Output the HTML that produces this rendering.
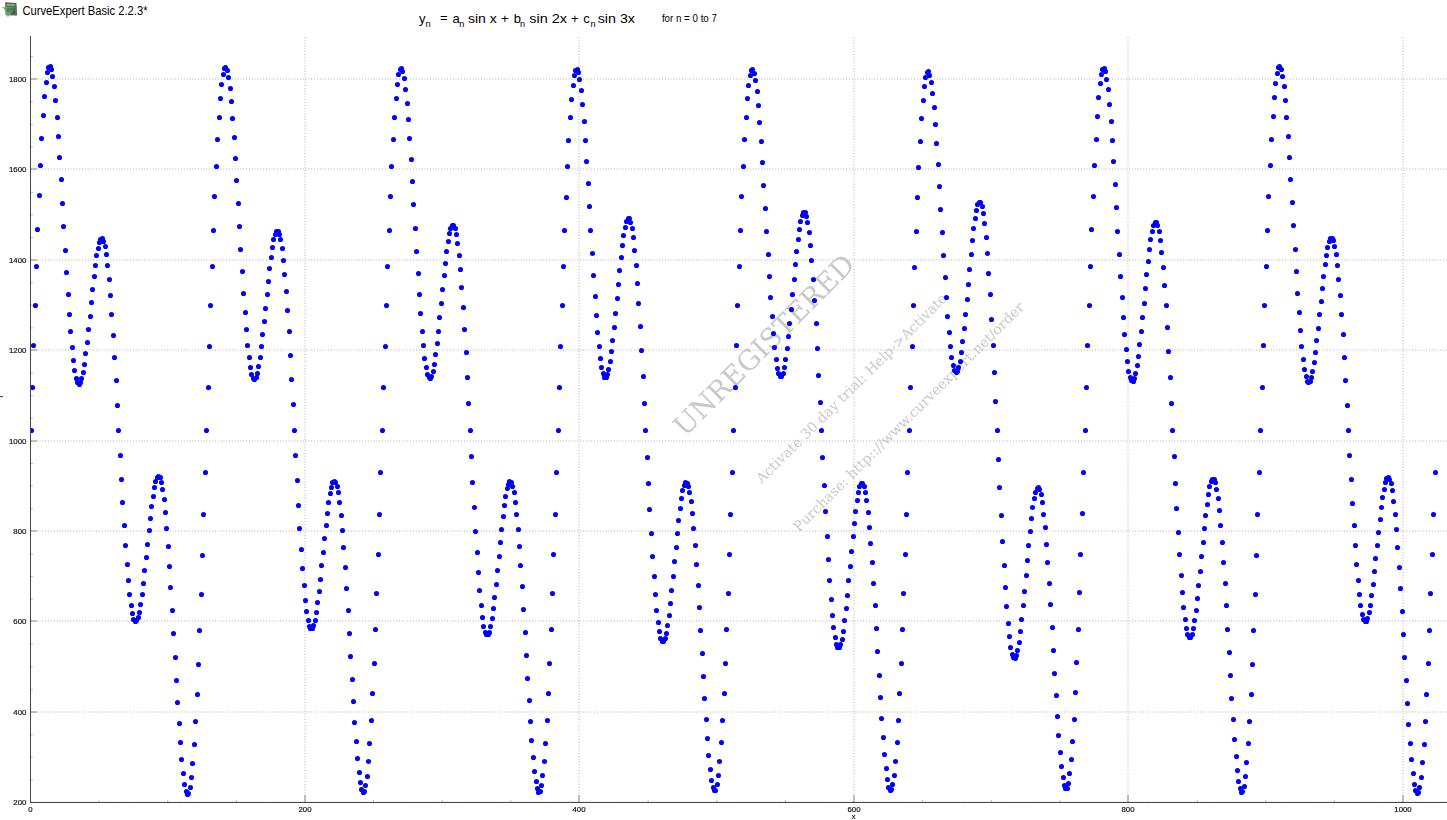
<!DOCTYPE html><html><head><meta charset="utf-8"><title>CurveExpert Basic 2.2.3*</title><style>
html,body{margin:0;padding:0;background:#fff;width:1447px;height:820px;overflow:hidden;position:relative}
svg{position:absolute;left:0;top:0;display:block}
#plot{will-change:transform}
</style></head><body>
<svg id="top" width="1447" height="40" viewBox="0 0 1447 40">
<defs><linearGradient id="ig" x1="1" y1="0" x2="0" y2="1"><stop offset="0" stop-color="#1f6e30"/><stop offset="1" stop-color="#9fdca3"/></linearGradient></defs><g><path d="M5.2,2.2 L16.4,2.9 L17,15.6 L5.6,15.2 Z" fill="#505251"/><path d="M6.3,3.4 L15.4,3.9 L15.9,14.6 L6.6,14.2 Z" fill="none" stroke="#727574" stroke-width="0.7"/><rect x="6.8" y="4.2" width="8" height="2.0" fill="#7ab882"/><rect x="2" y="6.9" width="15" height="0.9" fill="url(#ig)"/><path d="M3.6,7.8 L16.6,7.8 L7.6,17.6 Z" fill="url(#ig)" opacity="0.8"/><path d="M7,10 L10,9.5 L7.4,12 Z" fill="#3b3d3c" opacity="0.6"/></g>
<text x="22.5" y="14.6" font-family="Liberation Sans, sans-serif" font-size="12" fill="#000" textLength="125" lengthAdjust="spacingAndGlyphs">CurveExpert Basic 2.2.3*</text>
<g font-family="Liberation Sans, sans-serif" fill="#000">
<text x="418.90" y="22.70" font-size="13">y</text>
<text x="425.60" y="26.60" font-size="9.2">n</text>
<text x="440.10" y="21.75" font-size="13">=</text>
<text x="452.50" y="22.70" font-size="13">a</text>
<text x="459.20" y="26.60" font-size="9.2">n</text>
<text x="467.90" y="22.70" font-size="13" textLength="28.90" lengthAdjust="spacingAndGlyphs">sin x</text>
<text x="501.00" y="22.70" font-size="13">+</text>
<text x="513.80" y="22.70" font-size="13">b</text>
<text x="519.90" y="26.60" font-size="9.2">n</text>
<text x="529.20" y="22.70" font-size="13" textLength="37.80" lengthAdjust="spacingAndGlyphs">sin 2x</text>
<text x="570.90" y="22.70" font-size="13">+</text>
<text x="583.30" y="22.70" font-size="13">c</text>
<text x="590.40" y="26.60" font-size="9.2">n</text>
<text x="597.70" y="22.70" font-size="13" textLength="37.30" lengthAdjust="spacingAndGlyphs">sin 3x</text>
<text x="661.90" y="21.90" font-size="10.5" textLength="55.00" lengthAdjust="spacingAndGlyphs">for n = 0 to 7</text>
</g></svg>
<svg id="plot" width="1447" height="820" viewBox="0 0 1447 820" style="top:0">
<line x1="305" y1="37" x2="305" y2="802" stroke="#b0b0b0" stroke-dasharray="1 1.83"/>
<line x1="579" y1="37" x2="579" y2="802" stroke="#b0b0b0" stroke-dasharray="1 1.83"/>
<line x1="854" y1="37" x2="854" y2="802" stroke="#b0b0b0" stroke-dasharray="1 1.83"/>
<line x1="1128" y1="37" x2="1128" y2="802" stroke="#b0b0b0" stroke-dasharray="1 1.83"/>
<line x1="1403" y1="37" x2="1403" y2="802" stroke="#b0b0b0" stroke-dasharray="1 1.83"/>
<line x1="31" y1="79" x2="1447" y2="79" stroke="#b0b0b0" stroke-dasharray="1 1.83"/>
<line x1="31" y1="169" x2="1447" y2="169" stroke="#b0b0b0" stroke-dasharray="1 1.83"/>
<line x1="31" y1="260" x2="1447" y2="260" stroke="#b0b0b0" stroke-dasharray="1 1.83"/>
<line x1="31" y1="350" x2="1447" y2="350" stroke="#b0b0b0" stroke-dasharray="1 1.83"/>
<line x1="31" y1="441" x2="1447" y2="441" stroke="#b0b0b0" stroke-dasharray="1 1.83"/>
<line x1="31" y1="531" x2="1447" y2="531" stroke="#b0b0b0" stroke-dasharray="1 1.83"/>
<line x1="31" y1="621" x2="1447" y2="621" stroke="#b0b0b0" stroke-dasharray="1 1.83"/>
<line x1="31" y1="712" x2="1447" y2="712" stroke="#b0b0b0" stroke-dasharray="1 1.83"/>
<line x1="31" y1="802" x2="1447" y2="802" stroke="#b0b0b0" stroke-dasharray="1 1.83"/>
<line x1="305" y1="795" x2="305" y2="802" stroke="#8a8a8a"/>
<line x1="579" y1="795" x2="579" y2="802" stroke="#8a8a8a"/>
<line x1="854" y1="795" x2="854" y2="802" stroke="#8a8a8a"/>
<line x1="1128" y1="795" x2="1128" y2="802" stroke="#8a8a8a"/>
<line x1="1403" y1="795" x2="1403" y2="802" stroke="#8a8a8a"/>
<line x1="30.5" y1="795" x2="30.5" y2="802" stroke="#8a8a8a"/>
<line x1="31" y1="79" x2="37" y2="79" stroke="#8a8a8a"/>
<line x1="31" y1="169" x2="37" y2="169" stroke="#8a8a8a"/>
<line x1="31" y1="260" x2="37" y2="260" stroke="#8a8a8a"/>
<line x1="31" y1="350" x2="37" y2="350" stroke="#8a8a8a"/>
<line x1="31" y1="441" x2="37" y2="441" stroke="#8a8a8a"/>
<line x1="31" y1="531" x2="37" y2="531" stroke="#8a8a8a"/>
<line x1="31" y1="621" x2="37" y2="621" stroke="#8a8a8a"/>
<line x1="31" y1="712" x2="37" y2="712" stroke="#8a8a8a"/>
<line x1="99.12" y1="800" x2="99.12" y2="802" stroke="#b8b8b8"/>
<line x1="167.75" y1="800" x2="167.75" y2="802" stroke="#b8b8b8"/>
<line x1="236.38" y1="800" x2="236.38" y2="802" stroke="#b8b8b8"/>
<line x1="373.62" y1="800" x2="373.62" y2="802" stroke="#b8b8b8"/>
<line x1="442.25" y1="800" x2="442.25" y2="802" stroke="#b8b8b8"/>
<line x1="510.88" y1="800" x2="510.88" y2="802" stroke="#b8b8b8"/>
<line x1="648.12" y1="800" x2="648.12" y2="802" stroke="#b8b8b8"/>
<line x1="716.75" y1="800" x2="716.75" y2="802" stroke="#b8b8b8"/>
<line x1="785.38" y1="800" x2="785.38" y2="802" stroke="#b8b8b8"/>
<line x1="922.62" y1="800" x2="922.62" y2="802" stroke="#b8b8b8"/>
<line x1="991.25" y1="800" x2="991.25" y2="802" stroke="#b8b8b8"/>
<line x1="1059.88" y1="800" x2="1059.88" y2="802" stroke="#b8b8b8"/>
<line x1="1197.12" y1="800" x2="1197.12" y2="802" stroke="#b8b8b8"/>
<line x1="1265.75" y1="800" x2="1265.75" y2="802" stroke="#b8b8b8"/>
<line x1="1334.38" y1="800" x2="1334.38" y2="802" stroke="#b8b8b8"/>
<line x1="31" y1="779.80" x2="33" y2="779.80" stroke="#b8b8b8"/>
<line x1="31" y1="757.21" x2="33" y2="757.21" stroke="#b8b8b8"/>
<line x1="31" y1="734.61" x2="33" y2="734.61" stroke="#b8b8b8"/>
<line x1="31" y1="689.41" x2="33" y2="689.41" stroke="#b8b8b8"/>
<line x1="31" y1="666.82" x2="33" y2="666.82" stroke="#b8b8b8"/>
<line x1="31" y1="644.22" x2="33" y2="644.22" stroke="#b8b8b8"/>
<line x1="31" y1="599.03" x2="33" y2="599.03" stroke="#b8b8b8"/>
<line x1="31" y1="576.43" x2="33" y2="576.43" stroke="#b8b8b8"/>
<line x1="31" y1="553.83" x2="33" y2="553.83" stroke="#b8b8b8"/>
<line x1="31" y1="508.64" x2="33" y2="508.64" stroke="#b8b8b8"/>
<line x1="31" y1="486.04" x2="33" y2="486.04" stroke="#b8b8b8"/>
<line x1="31" y1="463.44" x2="33" y2="463.44" stroke="#b8b8b8"/>
<line x1="31" y1="418.25" x2="33" y2="418.25" stroke="#b8b8b8"/>
<line x1="31" y1="395.65" x2="33" y2="395.65" stroke="#b8b8b8"/>
<line x1="31" y1="373.06" x2="33" y2="373.06" stroke="#b8b8b8"/>
<line x1="31" y1="327.86" x2="33" y2="327.86" stroke="#b8b8b8"/>
<line x1="31" y1="305.27" x2="33" y2="305.27" stroke="#b8b8b8"/>
<line x1="31" y1="282.67" x2="33" y2="282.67" stroke="#b8b8b8"/>
<line x1="31" y1="237.48" x2="33" y2="237.48" stroke="#b8b8b8"/>
<line x1="31" y1="214.88" x2="33" y2="214.88" stroke="#b8b8b8"/>
<line x1="31" y1="192.28" x2="33" y2="192.28" stroke="#b8b8b8"/>
<line x1="31" y1="147.09" x2="33" y2="147.09" stroke="#b8b8b8"/>
<line x1="31" y1="124.49" x2="33" y2="124.49" stroke="#b8b8b8"/>
<line x1="31" y1="101.89" x2="33" y2="101.89" stroke="#b8b8b8"/>
<line x1="31" y1="56.70" x2="33" y2="56.70" stroke="#b8b8b8"/>
<rect x="30" y="36" width="1" height="767" fill="#474747"/>
<rect x="30" y="802" width="1417" height="1" fill="#474747"/>
<g font-family="Liberation Sans, sans-serif" font-size="7" fill="#111" stroke="#111" stroke-width="0.18">
<text x="9.00" y="81.70" textLength="17.40" lengthAdjust="spacingAndGlyphs">1800</text>
<text x="9.00" y="171.70" textLength="17.40" lengthAdjust="spacingAndGlyphs">1600</text>
<text x="9.00" y="262.70" textLength="17.40" lengthAdjust="spacingAndGlyphs">1400</text>
<text x="9.00" y="352.70" textLength="17.40" lengthAdjust="spacingAndGlyphs">1200</text>
<text x="9.00" y="443.70" textLength="17.40" lengthAdjust="spacingAndGlyphs">1000</text>
<text x="13.35" y="533.70" textLength="13.05" lengthAdjust="spacingAndGlyphs">800</text>
<text x="13.35" y="623.70" textLength="13.05" lengthAdjust="spacingAndGlyphs">600</text>
<text x="13.35" y="714.70" textLength="13.05" lengthAdjust="spacingAndGlyphs">400</text>
<text x="13.35" y="804.70" textLength="13.05" lengthAdjust="spacingAndGlyphs">200</text>
<text x="28.32" y="812" textLength="4.35" lengthAdjust="spacingAndGlyphs">0</text>
<text x="298.48" y="812" textLength="13.05" lengthAdjust="spacingAndGlyphs">200</text>
<text x="572.48" y="812" textLength="13.05" lengthAdjust="spacingAndGlyphs">400</text>
<text x="847.48" y="812" textLength="13.05" lengthAdjust="spacingAndGlyphs">600</text>
<text x="1121.47" y="812" textLength="13.05" lengthAdjust="spacingAndGlyphs">800</text>
<text x="1394.30" y="812" textLength="17.40" lengthAdjust="spacingAndGlyphs">1000</text>
<text x="853.7" y="819.3" text-anchor="middle" font-size="7.5">x</text>
</g>
<rect x="0" y="396" width="3" height="1.2" fill="#555"/>
<g fill="#c8c8c8" font-family="DejaVu Serif, serif">
<text transform="translate(685,437.6) rotate(-45)" font-size="27.7">UNREGISTERED</text>
<text transform="translate(761.8,484.1) rotate(-44.8)" font-size="14.0">Activate 30 day trial: Help-&gt;Activate</text>
<text transform="translate(799,532.5) rotate(-44.8)" font-size="14.0">Purchase: http:://www.curveexpert.net/order</text>
</g>
<defs><clipPath id="pc"><rect x="31" y="0" width="1416" height="802"/></clipPath></defs>
<g fill="#0000ff" clip-path="url(#pc)">
<circle cx="31.5" cy="430.5" r="2.55"/>
<circle cx="32.5" cy="387.5" r="2.55"/>
<circle cx="33.5" cy="345.5" r="2.55"/>
<circle cx="35.5" cy="305.5" r="2.55"/>
<circle cx="36.5" cy="266.5" r="2.55"/>
<circle cx="37.5" cy="229.5" r="2.55"/>
<circle cx="39.5" cy="195.5" r="2.55"/>
<circle cx="40.5" cy="165.5" r="2.55"/>
<circle cx="41.5" cy="138.5" r="2.55"/>
<circle cx="43.5" cy="115.5" r="2.55"/>
<circle cx="44.5" cy="96.5" r="2.55"/>
<circle cx="46.5" cy="82.5" r="2.55"/>
<circle cx="47.5" cy="72.5" r="2.55"/>
<circle cx="48.5" cy="67.5" r="2.55"/>
<circle cx="50.5" cy="66.5" r="2.55"/>
<circle cx="51.5" cy="69.5" r="2.55"/>
<circle cx="52.5" cy="76.5" r="2.55"/>
<circle cx="54.5" cy="86.5" r="2.55"/>
<circle cx="55.5" cy="100.5" r="2.55"/>
<circle cx="57.5" cy="117.5" r="2.55"/>
<circle cx="58.5" cy="136.5" r="2.55"/>
<circle cx="59.5" cy="157.5" r="2.55"/>
<circle cx="61.5" cy="179.5" r="2.55"/>
<circle cx="62.5" cy="203.5" r="2.55"/>
<circle cx="63.5" cy="226.5" r="2.55"/>
<circle cx="65.5" cy="250.5" r="2.55"/>
<circle cx="66.5" cy="272.5" r="2.55"/>
<circle cx="68.5" cy="294.5" r="2.55"/>
<circle cx="69.5" cy="314.5" r="2.55"/>
<circle cx="70.5" cy="331.5" r="2.55"/>
<circle cx="72.5" cy="347.5" r="2.55"/>
<circle cx="73.5" cy="360.5" r="2.55"/>
<circle cx="74.5" cy="370.5" r="2.55"/>
<circle cx="76.5" cy="378.5" r="2.55"/>
<circle cx="77.5" cy="382.5" r="2.55"/>
<circle cx="79.5" cy="384.5" r="2.55"/>
<circle cx="80.5" cy="382.5" r="2.55"/>
<circle cx="81.5" cy="378.5" r="2.55"/>
<circle cx="83.5" cy="372.5" r="2.55"/>
<circle cx="84.5" cy="364.5" r="2.55"/>
<circle cx="85.5" cy="353.5" r="2.55"/>
<circle cx="87.5" cy="342.5" r="2.55"/>
<circle cx="88.5" cy="329.5" r="2.55"/>
<circle cx="90.5" cy="316.5" r="2.55"/>
<circle cx="91.5" cy="302.5" r="2.55"/>
<circle cx="92.5" cy="289.5" r="2.55"/>
<circle cx="94.5" cy="276.5" r="2.55"/>
<circle cx="95.5" cy="265.5" r="2.55"/>
<circle cx="96.5" cy="255.5" r="2.55"/>
<circle cx="98.5" cy="248.5" r="2.55"/>
<circle cx="99.5" cy="242.5" r="2.55"/>
<circle cx="100.5" cy="239.5" r="2.55"/>
<circle cx="102.5" cy="238.5" r="2.55"/>
<circle cx="103.5" cy="241.5" r="2.55"/>
<circle cx="105.5" cy="246.5" r="2.55"/>
<circle cx="106.5" cy="254.5" r="2.55"/>
<circle cx="107.5" cy="265.5" r="2.55"/>
<circle cx="109.5" cy="279.5" r="2.55"/>
<circle cx="110.5" cy="295.5" r="2.55"/>
<circle cx="111.5" cy="314.5" r="2.55"/>
<circle cx="113.5" cy="335.5" r="2.55"/>
<circle cx="114.5" cy="357.5" r="2.55"/>
<circle cx="116.5" cy="380.5" r="2.55"/>
<circle cx="117.5" cy="405.5" r="2.55"/>
<circle cx="118.5" cy="430.5" r="2.55"/>
<circle cx="120.5" cy="455.5" r="2.55"/>
<circle cx="121.5" cy="479.5" r="2.55"/>
<circle cx="122.5" cy="502.5" r="2.55"/>
<circle cx="124.5" cy="525.5" r="2.55"/>
<circle cx="125.5" cy="545.5" r="2.55"/>
<circle cx="127.5" cy="564.5" r="2.55"/>
<circle cx="128.5" cy="580.5" r="2.55"/>
<circle cx="129.5" cy="594.5" r="2.55"/>
<circle cx="131.5" cy="605.5" r="2.55"/>
<circle cx="132.5" cy="613.5" r="2.55"/>
<circle cx="133.5" cy="619.5" r="2.55"/>
<circle cx="135.5" cy="621.5" r="2.55"/>
<circle cx="136.5" cy="620.5" r="2.55"/>
<circle cx="138.5" cy="617.5" r="2.55"/>
<circle cx="139.5" cy="612.5" r="2.55"/>
<circle cx="140.5" cy="604.5" r="2.55"/>
<circle cx="142.5" cy="594.5" r="2.55"/>
<circle cx="143.5" cy="583.5" r="2.55"/>
<circle cx="144.5" cy="570.5" r="2.55"/>
<circle cx="146.5" cy="557.5" r="2.55"/>
<circle cx="147.5" cy="544.5" r="2.55"/>
<circle cx="149.5" cy="530.5" r="2.55"/>
<circle cx="150.5" cy="518.5" r="2.55"/>
<circle cx="151.5" cy="506.5" r="2.55"/>
<circle cx="153.5" cy="496.5" r="2.55"/>
<circle cx="154.5" cy="487.5" r="2.55"/>
<circle cx="155.5" cy="481.5" r="2.55"/>
<circle cx="157.5" cy="477.5" r="2.55"/>
<circle cx="158.5" cy="476.5" r="2.55"/>
<circle cx="160.5" cy="477.5" r="2.55"/>
<circle cx="161.5" cy="482.5" r="2.55"/>
<circle cx="162.5" cy="489.5" r="2.55"/>
<circle cx="164.5" cy="499.5" r="2.55"/>
<circle cx="165.5" cy="512.5" r="2.55"/>
<circle cx="166.5" cy="528.5" r="2.55"/>
<circle cx="168.5" cy="546.5" r="2.55"/>
<circle cx="169.5" cy="566.5" r="2.55"/>
<circle cx="170.5" cy="587.5" r="2.55"/>
<circle cx="172.5" cy="610.5" r="2.55"/>
<circle cx="173.5" cy="633.5" r="2.55"/>
<circle cx="175.5" cy="657.5" r="2.55"/>
<circle cx="176.5" cy="680.5" r="2.55"/>
<circle cx="177.5" cy="702.5" r="2.55"/>
<circle cx="179.5" cy="723.5" r="2.55"/>
<circle cx="180.5" cy="742.5" r="2.55"/>
<circle cx="181.5" cy="759.5" r="2.55"/>
<circle cx="183.5" cy="773.5" r="2.55"/>
<circle cx="184.5" cy="784.5" r="2.55"/>
<circle cx="186.5" cy="791.5" r="2.55"/>
<circle cx="187.5" cy="794.5" r="2.55"/>
<circle cx="188.5" cy="793.5" r="2.55"/>
<circle cx="190.5" cy="787.5" r="2.55"/>
<circle cx="191.5" cy="777.5" r="2.55"/>
<circle cx="192.5" cy="763.5" r="2.55"/>
<circle cx="194.5" cy="744.5" r="2.55"/>
<circle cx="195.5" cy="721.5" r="2.55"/>
<circle cx="197.5" cy="694.5" r="2.55"/>
<circle cx="198.5" cy="664.5" r="2.55"/>
<circle cx="199.5" cy="630.5" r="2.55"/>
<circle cx="201.5" cy="594.5" r="2.55"/>
<circle cx="202.5" cy="555.5" r="2.55"/>
<circle cx="203.5" cy="514.5" r="2.55"/>
<circle cx="205.5" cy="472.5" r="2.55"/>
<circle cx="206.5" cy="430.5" r="2.55"/>
<circle cx="208.5" cy="387.5" r="2.55"/>
<circle cx="209.5" cy="346.5" r="2.55"/>
<circle cx="210.5" cy="305.5" r="2.55"/>
<circle cx="212.5" cy="266.5" r="2.55"/>
<circle cx="213.5" cy="230.5" r="2.55"/>
<circle cx="214.5" cy="196.5" r="2.55"/>
<circle cx="216.5" cy="166.5" r="2.55"/>
<circle cx="217.5" cy="139.5" r="2.55"/>
<circle cx="219.5" cy="117.5" r="2.55"/>
<circle cx="220.5" cy="98.5" r="2.55"/>
<circle cx="221.5" cy="84.5" r="2.55"/>
<circle cx="223.5" cy="74.5" r="2.55"/>
<circle cx="224.5" cy="68.5" r="2.55"/>
<circle cx="225.5" cy="67.5" r="2.55"/>
<circle cx="227.5" cy="70.5" r="2.55"/>
<circle cx="228.5" cy="77.5" r="2.55"/>
<circle cx="230.5" cy="88.5" r="2.55"/>
<circle cx="231.5" cy="101.5" r="2.55"/>
<circle cx="232.5" cy="118.5" r="2.55"/>
<circle cx="234.5" cy="137.5" r="2.55"/>
<circle cx="235.5" cy="158.5" r="2.55"/>
<circle cx="236.5" cy="180.5" r="2.55"/>
<circle cx="238.5" cy="203.5" r="2.55"/>
<circle cx="239.5" cy="226.5" r="2.55"/>
<circle cx="240.5" cy="249.5" r="2.55"/>
<circle cx="242.5" cy="271.5" r="2.55"/>
<circle cx="243.5" cy="293.5" r="2.55"/>
<circle cx="245.5" cy="312.5" r="2.55"/>
<circle cx="246.5" cy="329.5" r="2.55"/>
<circle cx="247.5" cy="345.5" r="2.55"/>
<circle cx="249.5" cy="357.5" r="2.55"/>
<circle cx="250.5" cy="367.5" r="2.55"/>
<circle cx="251.5" cy="374.5" r="2.55"/>
<circle cx="253.5" cy="378.5" r="2.55"/>
<circle cx="254.5" cy="379.5" r="2.55"/>
<circle cx="256.5" cy="377.5" r="2.55"/>
<circle cx="257.5" cy="373.5" r="2.55"/>
<circle cx="258.5" cy="366.5" r="2.55"/>
<circle cx="260.5" cy="357.5" r="2.55"/>
<circle cx="261.5" cy="346.5" r="2.55"/>
<circle cx="262.5" cy="334.5" r="2.55"/>
<circle cx="264.5" cy="321.5" r="2.55"/>
<circle cx="265.5" cy="308.5" r="2.55"/>
<circle cx="267.5" cy="294.5" r="2.55"/>
<circle cx="268.5" cy="281.5" r="2.55"/>
<circle cx="269.5" cy="268.5" r="2.55"/>
<circle cx="271.5" cy="257.5" r="2.55"/>
<circle cx="272.5" cy="247.5" r="2.55"/>
<circle cx="273.5" cy="239.5" r="2.55"/>
<circle cx="275.5" cy="234.5" r="2.55"/>
<circle cx="276.5" cy="231.5" r="2.55"/>
<circle cx="278.5" cy="231.5" r="2.55"/>
<circle cx="279.5" cy="234.5" r="2.55"/>
<circle cx="280.5" cy="239.5" r="2.55"/>
<circle cx="282.5" cy="248.5" r="2.55"/>
<circle cx="283.5" cy="260.5" r="2.55"/>
<circle cx="284.5" cy="274.5" r="2.55"/>
<circle cx="286.5" cy="291.5" r="2.55"/>
<circle cx="287.5" cy="310.5" r="2.55"/>
<circle cx="289.5" cy="331.5" r="2.55"/>
<circle cx="290.5" cy="355.5" r="2.55"/>
<circle cx="291.5" cy="379.5" r="2.55"/>
<circle cx="293.5" cy="404.5" r="2.55"/>
<circle cx="294.5" cy="430.5" r="2.55"/>
<circle cx="295.5" cy="455.5" r="2.55"/>
<circle cx="297.5" cy="480.5" r="2.55"/>
<circle cx="298.5" cy="505.5" r="2.55"/>
<circle cx="299.5" cy="528.5" r="2.55"/>
<circle cx="301.5" cy="549.5" r="2.55"/>
<circle cx="302.5" cy="568.5" r="2.55"/>
<circle cx="304.5" cy="585.5" r="2.55"/>
<circle cx="305.5" cy="600.5" r="2.55"/>
<circle cx="306.5" cy="611.5" r="2.55"/>
<circle cx="308.5" cy="620.5" r="2.55"/>
<circle cx="309.5" cy="626.5" r="2.55"/>
<circle cx="310.5" cy="628.5" r="2.55"/>
<circle cx="312.5" cy="628.5" r="2.55"/>
<circle cx="313.5" cy="625.5" r="2.55"/>
<circle cx="315.5" cy="620.5" r="2.55"/>
<circle cx="316.5" cy="612.5" r="2.55"/>
<circle cx="317.5" cy="602.5" r="2.55"/>
<circle cx="319.5" cy="591.5" r="2.55"/>
<circle cx="320.5" cy="579.5" r="2.55"/>
<circle cx="321.5" cy="565.5" r="2.55"/>
<circle cx="323.5" cy="552.5" r="2.55"/>
<circle cx="324.5" cy="538.5" r="2.55"/>
<circle cx="326.5" cy="525.5" r="2.55"/>
<circle cx="327.5" cy="513.5" r="2.55"/>
<circle cx="328.5" cy="502.5" r="2.55"/>
<circle cx="330.5" cy="493.5" r="2.55"/>
<circle cx="331.5" cy="487.5" r="2.55"/>
<circle cx="332.5" cy="482.5" r="2.55"/>
<circle cx="334.5" cy="481.5" r="2.55"/>
<circle cx="335.5" cy="482.5" r="2.55"/>
<circle cx="337.5" cy="486.5" r="2.55"/>
<circle cx="338.5" cy="492.5" r="2.55"/>
<circle cx="339.5" cy="502.5" r="2.55"/>
<circle cx="341.5" cy="515.5" r="2.55"/>
<circle cx="342.5" cy="530.5" r="2.55"/>
<circle cx="343.5" cy="547.5" r="2.55"/>
<circle cx="345.5" cy="567.5" r="2.55"/>
<circle cx="346.5" cy="588.5" r="2.55"/>
<circle cx="348.5" cy="610.5" r="2.55"/>
<circle cx="349.5" cy="633.5" r="2.55"/>
<circle cx="350.5" cy="656.5" r="2.55"/>
<circle cx="352.5" cy="679.5" r="2.55"/>
<circle cx="353.5" cy="701.5" r="2.55"/>
<circle cx="354.5" cy="722.5" r="2.55"/>
<circle cx="356.5" cy="741.5" r="2.55"/>
<circle cx="357.5" cy="758.5" r="2.55"/>
<circle cx="359.5" cy="772.5" r="2.55"/>
<circle cx="360.5" cy="782.5" r="2.55"/>
<circle cx="361.5" cy="789.5" r="2.55"/>
<circle cx="363.5" cy="792.5" r="2.55"/>
<circle cx="364.5" cy="791.5" r="2.55"/>
<circle cx="365.5" cy="785.5" r="2.55"/>
<circle cx="367.5" cy="776.5" r="2.55"/>
<circle cx="368.5" cy="761.5" r="2.55"/>
<circle cx="369.5" cy="743.5" r="2.55"/>
<circle cx="371.5" cy="720.5" r="2.55"/>
<circle cx="372.5" cy="693.5" r="2.55"/>
<circle cx="374.5" cy="663.5" r="2.55"/>
<circle cx="375.5" cy="629.5" r="2.55"/>
<circle cx="376.5" cy="593.5" r="2.55"/>
<circle cx="378.5" cy="554.5" r="2.55"/>
<circle cx="379.5" cy="514.5" r="2.55"/>
<circle cx="380.5" cy="472.5" r="2.55"/>
<circle cx="382.5" cy="430.5" r="2.55"/>
<circle cx="383.5" cy="387.5" r="2.55"/>
<circle cx="385.5" cy="346.5" r="2.55"/>
<circle cx="386.5" cy="305.5" r="2.55"/>
<circle cx="387.5" cy="266.5" r="2.55"/>
<circle cx="389.5" cy="230.5" r="2.55"/>
<circle cx="390.5" cy="196.5" r="2.55"/>
<circle cx="391.5" cy="166.5" r="2.55"/>
<circle cx="393.5" cy="139.5" r="2.55"/>
<circle cx="394.5" cy="117.5" r="2.55"/>
<circle cx="396.5" cy="98.5" r="2.55"/>
<circle cx="397.5" cy="84.5" r="2.55"/>
<circle cx="398.5" cy="74.5" r="2.55"/>
<circle cx="400.5" cy="69.5" r="2.55"/>
<circle cx="401.5" cy="68.5" r="2.55"/>
<circle cx="402.5" cy="71.5" r="2.55"/>
<circle cx="404.5" cy="78.5" r="2.55"/>
<circle cx="405.5" cy="89.5" r="2.55"/>
<circle cx="407.5" cy="103.5" r="2.55"/>
<circle cx="408.5" cy="119.5" r="2.55"/>
<circle cx="409.5" cy="138.5" r="2.55"/>
<circle cx="411.5" cy="159.5" r="2.55"/>
<circle cx="412.5" cy="181.5" r="2.55"/>
<circle cx="413.5" cy="204.5" r="2.55"/>
<circle cx="415.5" cy="228.5" r="2.55"/>
<circle cx="416.5" cy="251.5" r="2.55"/>
<circle cx="418.5" cy="273.5" r="2.55"/>
<circle cx="419.5" cy="294.5" r="2.55"/>
<circle cx="420.5" cy="313.5" r="2.55"/>
<circle cx="422.5" cy="331.5" r="2.55"/>
<circle cx="423.5" cy="345.5" r="2.55"/>
<circle cx="424.5" cy="358.5" r="2.55"/>
<circle cx="426.5" cy="367.5" r="2.55"/>
<circle cx="427.5" cy="374.5" r="2.55"/>
<circle cx="429.5" cy="377.5" r="2.55"/>
<circle cx="430.5" cy="378.5" r="2.55"/>
<circle cx="431.5" cy="376.5" r="2.55"/>
<circle cx="433.5" cy="371.5" r="2.55"/>
<circle cx="434.5" cy="364.5" r="2.55"/>
<circle cx="435.5" cy="354.5" r="2.55"/>
<circle cx="437.5" cy="343.5" r="2.55"/>
<circle cx="438.5" cy="331.5" r="2.55"/>
<circle cx="439.5" cy="317.5" r="2.55"/>
<circle cx="441.5" cy="303.5" r="2.55"/>
<circle cx="442.5" cy="289.5" r="2.55"/>
<circle cx="444.5" cy="275.5" r="2.55"/>
<circle cx="445.5" cy="263.5" r="2.55"/>
<circle cx="446.5" cy="251.5" r="2.55"/>
<circle cx="448.5" cy="241.5" r="2.55"/>
<circle cx="449.5" cy="233.5" r="2.55"/>
<circle cx="450.5" cy="228.5" r="2.55"/>
<circle cx="452.5" cy="225.5" r="2.55"/>
<circle cx="453.5" cy="225.5" r="2.55"/>
<circle cx="455.5" cy="228.5" r="2.55"/>
<circle cx="456.5" cy="234.5" r="2.55"/>
<circle cx="457.5" cy="243.5" r="2.55"/>
<circle cx="459.5" cy="255.5" r="2.55"/>
<circle cx="460.5" cy="269.5" r="2.55"/>
<circle cx="461.5" cy="287.5" r="2.55"/>
<circle cx="463.5" cy="307.5" r="2.55"/>
<circle cx="464.5" cy="329.5" r="2.55"/>
<circle cx="466.5" cy="352.5" r="2.55"/>
<circle cx="467.5" cy="377.5" r="2.55"/>
<circle cx="468.5" cy="403.5" r="2.55"/>
<circle cx="470.5" cy="430.5" r="2.55"/>
<circle cx="471.5" cy="456.5" r="2.55"/>
<circle cx="472.5" cy="482.5" r="2.55"/>
<circle cx="474.5" cy="507.5" r="2.55"/>
<circle cx="475.5" cy="531.5" r="2.55"/>
<circle cx="477.5" cy="552.5" r="2.55"/>
<circle cx="478.5" cy="572.5" r="2.55"/>
<circle cx="479.5" cy="590.5" r="2.55"/>
<circle cx="481.5" cy="605.5" r="2.55"/>
<circle cx="482.5" cy="617.5" r="2.55"/>
<circle cx="483.5" cy="626.5" r="2.55"/>
<circle cx="485.5" cy="632.5" r="2.55"/>
<circle cx="486.5" cy="634.5" r="2.55"/>
<circle cx="488.5" cy="634.5" r="2.55"/>
<circle cx="489.5" cy="632.5" r="2.55"/>
<circle cx="490.5" cy="626.5" r="2.55"/>
<circle cx="492.5" cy="618.5" r="2.55"/>
<circle cx="493.5" cy="608.5" r="2.55"/>
<circle cx="494.5" cy="597.5" r="2.55"/>
<circle cx="496.5" cy="584.5" r="2.55"/>
<circle cx="497.5" cy="570.5" r="2.55"/>
<circle cx="499.5" cy="556.5" r="2.55"/>
<circle cx="500.5" cy="542.5" r="2.55"/>
<circle cx="501.5" cy="529.5" r="2.55"/>
<circle cx="503.5" cy="516.5" r="2.55"/>
<circle cx="504.5" cy="505.5" r="2.55"/>
<circle cx="505.5" cy="496.5" r="2.55"/>
<circle cx="507.5" cy="488.5" r="2.55"/>
<circle cx="508.5" cy="484.5" r="2.55"/>
<circle cx="509.5" cy="481.5" r="2.55"/>
<circle cx="511.5" cy="482.5" r="2.55"/>
<circle cx="512.5" cy="486.5" r="2.55"/>
<circle cx="514.5" cy="492.5" r="2.55"/>
<circle cx="515.5" cy="502.5" r="2.55"/>
<circle cx="516.5" cy="514.5" r="2.55"/>
<circle cx="518.5" cy="529.5" r="2.55"/>
<circle cx="519.5" cy="546.5" r="2.55"/>
<circle cx="520.5" cy="565.5" r="2.55"/>
<circle cx="522.5" cy="586.5" r="2.55"/>
<circle cx="523.5" cy="609.5" r="2.55"/>
<circle cx="525.5" cy="632.5" r="2.55"/>
<circle cx="526.5" cy="655.5" r="2.55"/>
<circle cx="527.5" cy="678.5" r="2.55"/>
<circle cx="529.5" cy="700.5" r="2.55"/>
<circle cx="530.5" cy="721.5" r="2.55"/>
<circle cx="531.5" cy="740.5" r="2.55"/>
<circle cx="533.5" cy="757.5" r="2.55"/>
<circle cx="534.5" cy="771.5" r="2.55"/>
<circle cx="536.5" cy="781.5" r="2.55"/>
<circle cx="537.5" cy="788.5" r="2.55"/>
<circle cx="538.5" cy="792.5" r="2.55"/>
<circle cx="540.5" cy="791.5" r="2.55"/>
<circle cx="541.5" cy="785.5" r="2.55"/>
<circle cx="542.5" cy="775.5" r="2.55"/>
<circle cx="544.5" cy="761.5" r="2.55"/>
<circle cx="545.5" cy="743.5" r="2.55"/>
<circle cx="547.5" cy="720.5" r="2.55"/>
<circle cx="548.5" cy="693.5" r="2.55"/>
<circle cx="549.5" cy="663.5" r="2.55"/>
<circle cx="551.5" cy="629.5" r="2.55"/>
<circle cx="552.5" cy="593.5" r="2.55"/>
<circle cx="553.5" cy="554.5" r="2.55"/>
<circle cx="555.5" cy="514.5" r="2.55"/>
<circle cx="556.5" cy="472.5" r="2.55"/>
<circle cx="558.5" cy="430.5" r="2.55"/>
<circle cx="559.5" cy="387.5" r="2.55"/>
<circle cx="560.5" cy="346.5" r="2.55"/>
<circle cx="562.5" cy="305.5" r="2.55"/>
<circle cx="563.5" cy="266.5" r="2.55"/>
<circle cx="564.5" cy="230.5" r="2.55"/>
<circle cx="566.5" cy="197.5" r="2.55"/>
<circle cx="567.5" cy="166.5" r="2.55"/>
<circle cx="568.5" cy="140.5" r="2.55"/>
<circle cx="570.5" cy="117.5" r="2.55"/>
<circle cx="571.5" cy="99.5" r="2.55"/>
<circle cx="573.5" cy="85.5" r="2.55"/>
<circle cx="574.5" cy="75.5" r="2.55"/>
<circle cx="575.5" cy="70.5" r="2.55"/>
<circle cx="577.5" cy="69.5" r="2.55"/>
<circle cx="578.5" cy="72.5" r="2.55"/>
<circle cx="579.5" cy="79.5" r="2.55"/>
<circle cx="581.5" cy="90.5" r="2.55"/>
<circle cx="582.5" cy="104.5" r="2.55"/>
<circle cx="584.5" cy="121.5" r="2.55"/>
<circle cx="585.5" cy="140.5" r="2.55"/>
<circle cx="586.5" cy="161.5" r="2.55"/>
<circle cx="588.5" cy="183.5" r="2.55"/>
<circle cx="589.5" cy="206.5" r="2.55"/>
<circle cx="590.5" cy="230.5" r="2.55"/>
<circle cx="592.5" cy="253.5" r="2.55"/>
<circle cx="593.5" cy="275.5" r="2.55"/>
<circle cx="595.5" cy="296.5" r="2.55"/>
<circle cx="596.5" cy="315.5" r="2.55"/>
<circle cx="597.5" cy="332.5" r="2.55"/>
<circle cx="599.5" cy="346.5" r="2.55"/>
<circle cx="600.5" cy="358.5" r="2.55"/>
<circle cx="601.5" cy="367.5" r="2.55"/>
<circle cx="603.5" cy="373.5" r="2.55"/>
<circle cx="604.5" cy="377.5" r="2.55"/>
<circle cx="606.5" cy="377.5" r="2.55"/>
<circle cx="607.5" cy="374.5" r="2.55"/>
<circle cx="608.5" cy="369.5" r="2.55"/>
<circle cx="610.5" cy="361.5" r="2.55"/>
<circle cx="611.5" cy="351.5" r="2.55"/>
<circle cx="612.5" cy="340.5" r="2.55"/>
<circle cx="614.5" cy="327.5" r="2.55"/>
<circle cx="615.5" cy="313.5" r="2.55"/>
<circle cx="617.5" cy="298.5" r="2.55"/>
<circle cx="618.5" cy="284.5" r="2.55"/>
<circle cx="619.5" cy="270.5" r="2.55"/>
<circle cx="621.5" cy="257.5" r="2.55"/>
<circle cx="622.5" cy="245.5" r="2.55"/>
<circle cx="623.5" cy="235.5" r="2.55"/>
<circle cx="625.5" cy="227.5" r="2.55"/>
<circle cx="626.5" cy="221.5" r="2.55"/>
<circle cx="628.5" cy="218.5" r="2.55"/>
<circle cx="629.5" cy="218.5" r="2.55"/>
<circle cx="630.5" cy="222.5" r="2.55"/>
<circle cx="632.5" cy="228.5" r="2.55"/>
<circle cx="633.5" cy="237.5" r="2.55"/>
<circle cx="634.5" cy="250.5" r="2.55"/>
<circle cx="636.5" cy="265.5" r="2.55"/>
<circle cx="637.5" cy="283.5" r="2.55"/>
<circle cx="638.5" cy="303.5" r="2.55"/>
<circle cx="640.5" cy="326.5" r="2.55"/>
<circle cx="641.5" cy="350.5" r="2.55"/>
<circle cx="643.5" cy="376.5" r="2.55"/>
<circle cx="644.5" cy="403.5" r="2.55"/>
<circle cx="645.5" cy="430.5" r="2.55"/>
<circle cx="647.5" cy="457.5" r="2.55"/>
<circle cx="648.5" cy="483.5" r="2.55"/>
<circle cx="649.5" cy="509.5" r="2.55"/>
<circle cx="651.5" cy="533.5" r="2.55"/>
<circle cx="652.5" cy="556.5" r="2.55"/>
<circle cx="654.5" cy="576.5" r="2.55"/>
<circle cx="655.5" cy="594.5" r="2.55"/>
<circle cx="656.5" cy="610.5" r="2.55"/>
<circle cx="658.5" cy="622.5" r="2.55"/>
<circle cx="659.5" cy="631.5" r="2.55"/>
<circle cx="660.5" cy="638.5" r="2.55"/>
<circle cx="662.5" cy="641.5" r="2.55"/>
<circle cx="663.5" cy="641.5" r="2.55"/>
<circle cx="665.5" cy="638.5" r="2.55"/>
<circle cx="666.5" cy="633.5" r="2.55"/>
<circle cx="667.5" cy="625.5" r="2.55"/>
<circle cx="669.5" cy="615.5" r="2.55"/>
<circle cx="670.5" cy="603.5" r="2.55"/>
<circle cx="671.5" cy="590.5" r="2.55"/>
<circle cx="673.5" cy="576.5" r="2.55"/>
<circle cx="674.5" cy="561.5" r="2.55"/>
<circle cx="676.5" cy="547.5" r="2.55"/>
<circle cx="677.5" cy="533.5" r="2.55"/>
<circle cx="678.5" cy="520.5" r="2.55"/>
<circle cx="680.5" cy="508.5" r="2.55"/>
<circle cx="681.5" cy="498.5" r="2.55"/>
<circle cx="682.5" cy="490.5" r="2.55"/>
<circle cx="684.5" cy="485.5" r="2.55"/>
<circle cx="685.5" cy="482.5" r="2.55"/>
<circle cx="687.5" cy="483.5" r="2.55"/>
<circle cx="688.5" cy="486.5" r="2.55"/>
<circle cx="689.5" cy="492.5" r="2.55"/>
<circle cx="691.5" cy="501.5" r="2.55"/>
<circle cx="692.5" cy="513.5" r="2.55"/>
<circle cx="693.5" cy="528.5" r="2.55"/>
<circle cx="695.5" cy="545.5" r="2.55"/>
<circle cx="696.5" cy="564.5" r="2.55"/>
<circle cx="698.5" cy="585.5" r="2.55"/>
<circle cx="699.5" cy="607.5" r="2.55"/>
<circle cx="700.5" cy="630.5" r="2.55"/>
<circle cx="702.5" cy="653.5" r="2.55"/>
<circle cx="703.5" cy="676.5" r="2.55"/>
<circle cx="704.5" cy="698.5" r="2.55"/>
<circle cx="706.5" cy="719.5" r="2.55"/>
<circle cx="707.5" cy="738.5" r="2.55"/>
<circle cx="708.5" cy="755.5" r="2.55"/>
<circle cx="710.5" cy="769.5" r="2.55"/>
<circle cx="711.5" cy="780.5" r="2.55"/>
<circle cx="713.5" cy="787.5" r="2.55"/>
<circle cx="714.5" cy="790.5" r="2.55"/>
<circle cx="715.5" cy="790.5" r="2.55"/>
<circle cx="717.5" cy="784.5" r="2.55"/>
<circle cx="718.5" cy="775.5" r="2.55"/>
<circle cx="719.5" cy="761.5" r="2.55"/>
<circle cx="721.5" cy="742.5" r="2.55"/>
<circle cx="722.5" cy="720.5" r="2.55"/>
<circle cx="724.5" cy="693.5" r="2.55"/>
<circle cx="725.5" cy="663.5" r="2.55"/>
<circle cx="726.5" cy="629.5" r="2.55"/>
<circle cx="728.5" cy="593.5" r="2.55"/>
<circle cx="729.5" cy="554.5" r="2.55"/>
<circle cx="730.5" cy="514.5" r="2.55"/>
<circle cx="732.5" cy="472.5" r="2.55"/>
<circle cx="733.5" cy="430.5" r="2.55"/>
<circle cx="735.5" cy="387.5" r="2.55"/>
<circle cx="736.5" cy="345.5" r="2.55"/>
<circle cx="737.5" cy="305.5" r="2.55"/>
<circle cx="739.5" cy="266.5" r="2.55"/>
<circle cx="740.5" cy="230.5" r="2.55"/>
<circle cx="741.5" cy="196.5" r="2.55"/>
<circle cx="743.5" cy="166.5" r="2.55"/>
<circle cx="744.5" cy="139.5" r="2.55"/>
<circle cx="746.5" cy="117.5" r="2.55"/>
<circle cx="747.5" cy="98.5" r="2.55"/>
<circle cx="748.5" cy="85.5" r="2.55"/>
<circle cx="750.5" cy="75.5" r="2.55"/>
<circle cx="751.5" cy="70.5" r="2.55"/>
<circle cx="752.5" cy="69.5" r="2.55"/>
<circle cx="754.5" cy="73.5" r="2.55"/>
<circle cx="755.5" cy="80.5" r="2.55"/>
<circle cx="757.5" cy="91.5" r="2.55"/>
<circle cx="758.5" cy="105.5" r="2.55"/>
<circle cx="759.5" cy="122.5" r="2.55"/>
<circle cx="761.5" cy="141.5" r="2.55"/>
<circle cx="762.5" cy="162.5" r="2.55"/>
<circle cx="763.5" cy="185.5" r="2.55"/>
<circle cx="765.5" cy="208.5" r="2.55"/>
<circle cx="766.5" cy="231.5" r="2.55"/>
<circle cx="768.5" cy="254.5" r="2.55"/>
<circle cx="769.5" cy="276.5" r="2.55"/>
<circle cx="770.5" cy="297.5" r="2.55"/>
<circle cx="772.5" cy="316.5" r="2.55"/>
<circle cx="773.5" cy="333.5" r="2.55"/>
<circle cx="774.5" cy="347.5" r="2.55"/>
<circle cx="776.5" cy="359.5" r="2.55"/>
<circle cx="777.5" cy="368.5" r="2.55"/>
<circle cx="778.5" cy="373.5" r="2.55"/>
<circle cx="780.5" cy="376.5" r="2.55"/>
<circle cx="781.5" cy="376.5" r="2.55"/>
<circle cx="783.5" cy="373.5" r="2.55"/>
<circle cx="784.5" cy="367.5" r="2.55"/>
<circle cx="785.5" cy="359.5" r="2.55"/>
<circle cx="787.5" cy="348.5" r="2.55"/>
<circle cx="788.5" cy="336.5" r="2.55"/>
<circle cx="789.5" cy="323.5" r="2.55"/>
<circle cx="791.5" cy="309.5" r="2.55"/>
<circle cx="792.5" cy="294.5" r="2.55"/>
<circle cx="794.5" cy="279.5" r="2.55"/>
<circle cx="795.5" cy="264.5" r="2.55"/>
<circle cx="796.5" cy="251.5" r="2.55"/>
<circle cx="798.5" cy="239.5" r="2.55"/>
<circle cx="799.5" cy="229.5" r="2.55"/>
<circle cx="800.5" cy="221.5" r="2.55"/>
<circle cx="802.5" cy="215.5" r="2.55"/>
<circle cx="803.5" cy="212.5" r="2.55"/>
<circle cx="805.5" cy="212.5" r="2.55"/>
<circle cx="806.5" cy="216.5" r="2.55"/>
<circle cx="807.5" cy="222.5" r="2.55"/>
<circle cx="809.5" cy="232.5" r="2.55"/>
<circle cx="810.5" cy="245.5" r="2.55"/>
<circle cx="811.5" cy="260.5" r="2.55"/>
<circle cx="813.5" cy="279.5" r="2.55"/>
<circle cx="814.5" cy="300.5" r="2.55"/>
<circle cx="816.5" cy="323.5" r="2.55"/>
<circle cx="817.5" cy="348.5" r="2.55"/>
<circle cx="818.5" cy="375.5" r="2.55"/>
<circle cx="820.5" cy="402.5" r="2.55"/>
<circle cx="821.5" cy="430.5" r="2.55"/>
<circle cx="822.5" cy="457.5" r="2.55"/>
<circle cx="824.5" cy="485.5" r="2.55"/>
<circle cx="825.5" cy="511.5" r="2.55"/>
<circle cx="827.5" cy="536.5" r="2.55"/>
<circle cx="828.5" cy="559.5" r="2.55"/>
<circle cx="829.5" cy="580.5" r="2.55"/>
<circle cx="831.5" cy="599.5" r="2.55"/>
<circle cx="832.5" cy="615.5" r="2.55"/>
<circle cx="833.5" cy="627.5" r="2.55"/>
<circle cx="835.5" cy="637.5" r="2.55"/>
<circle cx="836.5" cy="644.5" r="2.55"/>
<circle cx="837.5" cy="647.5" r="2.55"/>
<circle cx="839.5" cy="647.5" r="2.55"/>
<circle cx="840.5" cy="644.5" r="2.55"/>
<circle cx="842.5" cy="639.5" r="2.55"/>
<circle cx="843.5" cy="631.5" r="2.55"/>
<circle cx="844.5" cy="620.5" r="2.55"/>
<circle cx="846.5" cy="608.5" r="2.55"/>
<circle cx="847.5" cy="595.5" r="2.55"/>
<circle cx="848.5" cy="580.5" r="2.55"/>
<circle cx="850.5" cy="566.5" r="2.55"/>
<circle cx="851.5" cy="551.5" r="2.55"/>
<circle cx="853.5" cy="536.5" r="2.55"/>
<circle cx="854.5" cy="523.5" r="2.55"/>
<circle cx="855.5" cy="511.5" r="2.55"/>
<circle cx="857.5" cy="500.5" r="2.55"/>
<circle cx="858.5" cy="492.5" r="2.55"/>
<circle cx="859.5" cy="486.5" r="2.55"/>
<circle cx="861.5" cy="483.5" r="2.55"/>
<circle cx="862.5" cy="483.5" r="2.55"/>
<circle cx="864.5" cy="486.5" r="2.55"/>
<circle cx="865.5" cy="492.5" r="2.55"/>
<circle cx="866.5" cy="500.5" r="2.55"/>
<circle cx="868.5" cy="512.5" r="2.55"/>
<circle cx="869.5" cy="527.5" r="2.55"/>
<circle cx="870.5" cy="543.5" r="2.55"/>
<circle cx="872.5" cy="562.5" r="2.55"/>
<circle cx="873.5" cy="583.5" r="2.55"/>
<circle cx="875.5" cy="605.5" r="2.55"/>
<circle cx="876.5" cy="628.5" r="2.55"/>
<circle cx="877.5" cy="651.5" r="2.55"/>
<circle cx="879.5" cy="675.5" r="2.55"/>
<circle cx="880.5" cy="697.5" r="2.55"/>
<circle cx="881.5" cy="718.5" r="2.55"/>
<circle cx="883.5" cy="737.5" r="2.55"/>
<circle cx="884.5" cy="754.5" r="2.55"/>
<circle cx="886.5" cy="768.5" r="2.55"/>
<circle cx="887.5" cy="779.5" r="2.55"/>
<circle cx="888.5" cy="787.5" r="2.55"/>
<circle cx="890.5" cy="790.5" r="2.55"/>
<circle cx="891.5" cy="789.5" r="2.55"/>
<circle cx="892.5" cy="784.5" r="2.55"/>
<circle cx="894.5" cy="775.5" r="2.55"/>
<circle cx="895.5" cy="761.5" r="2.55"/>
<circle cx="897.5" cy="742.5" r="2.55"/>
<circle cx="898.5" cy="720.5" r="2.55"/>
<circle cx="899.5" cy="693.5" r="2.55"/>
<circle cx="901.5" cy="663.5" r="2.55"/>
<circle cx="902.5" cy="629.5" r="2.55"/>
<circle cx="903.5" cy="593.5" r="2.55"/>
<circle cx="905.5" cy="554.5" r="2.55"/>
<circle cx="906.5" cy="514.5" r="2.55"/>
<circle cx="907.5" cy="472.5" r="2.55"/>
<circle cx="909.5" cy="430.5" r="2.55"/>
<circle cx="910.5" cy="387.5" r="2.55"/>
<circle cx="912.5" cy="346.5" r="2.55"/>
<circle cx="913.5" cy="305.5" r="2.55"/>
<circle cx="914.5" cy="267.5" r="2.55"/>
<circle cx="916.5" cy="231.5" r="2.55"/>
<circle cx="917.5" cy="197.5" r="2.55"/>
<circle cx="918.5" cy="167.5" r="2.55"/>
<circle cx="920.5" cy="141.5" r="2.55"/>
<circle cx="921.5" cy="118.5" r="2.55"/>
<circle cx="923.5" cy="100.5" r="2.55"/>
<circle cx="924.5" cy="86.5" r="2.55"/>
<circle cx="925.5" cy="77.5" r="2.55"/>
<circle cx="927.5" cy="72.5" r="2.55"/>
<circle cx="928.5" cy="71.5" r="2.55"/>
<circle cx="929.5" cy="75.5" r="2.55"/>
<circle cx="931.5" cy="82.5" r="2.55"/>
<circle cx="932.5" cy="93.5" r="2.55"/>
<circle cx="934.5" cy="107.5" r="2.55"/>
<circle cx="935.5" cy="124.5" r="2.55"/>
<circle cx="936.5" cy="143.5" r="2.55"/>
<circle cx="938.5" cy="164.5" r="2.55"/>
<circle cx="939.5" cy="186.5" r="2.55"/>
<circle cx="940.5" cy="209.5" r="2.55"/>
<circle cx="942.5" cy="232.5" r="2.55"/>
<circle cx="943.5" cy="255.5" r="2.55"/>
<circle cx="945.5" cy="277.5" r="2.55"/>
<circle cx="946.5" cy="297.5" r="2.55"/>
<circle cx="947.5" cy="316.5" r="2.55"/>
<circle cx="949.5" cy="332.5" r="2.55"/>
<circle cx="950.5" cy="346.5" r="2.55"/>
<circle cx="951.5" cy="357.5" r="2.55"/>
<circle cx="953.5" cy="365.5" r="2.55"/>
<circle cx="954.5" cy="370.5" r="2.55"/>
<circle cx="956.5" cy="372.5" r="2.55"/>
<circle cx="957.5" cy="371.5" r="2.55"/>
<circle cx="958.5" cy="367.5" r="2.55"/>
<circle cx="960.5" cy="361.5" r="2.55"/>
<circle cx="961.5" cy="352.5" r="2.55"/>
<circle cx="962.5" cy="341.5" r="2.55"/>
<circle cx="964.5" cy="328.5" r="2.55"/>
<circle cx="965.5" cy="314.5" r="2.55"/>
<circle cx="967.5" cy="299.5" r="2.55"/>
<circle cx="968.5" cy="284.5" r="2.55"/>
<circle cx="969.5" cy="269.5" r="2.55"/>
<circle cx="971.5" cy="254.5" r="2.55"/>
<circle cx="972.5" cy="240.5" r="2.55"/>
<circle cx="973.5" cy="228.5" r="2.55"/>
<circle cx="975.5" cy="218.5" r="2.55"/>
<circle cx="976.5" cy="210.5" r="2.55"/>
<circle cx="977.5" cy="204.5" r="2.55"/>
<circle cx="979.5" cy="202.5" r="2.55"/>
<circle cx="980.5" cy="202.5" r="2.55"/>
<circle cx="982.5" cy="206.5" r="2.55"/>
<circle cx="983.5" cy="213.5" r="2.55"/>
<circle cx="984.5" cy="223.5" r="2.55"/>
<circle cx="986.5" cy="237.5" r="2.55"/>
<circle cx="987.5" cy="253.5" r="2.55"/>
<circle cx="988.5" cy="273.5" r="2.55"/>
<circle cx="990.5" cy="294.5" r="2.55"/>
<circle cx="991.5" cy="319.5" r="2.55"/>
<circle cx="993.5" cy="345.5" r="2.55"/>
<circle cx="994.5" cy="372.5" r="2.55"/>
<circle cx="995.5" cy="401.5" r="2.55"/>
<circle cx="997.5" cy="430.5" r="2.55"/>
<circle cx="998.5" cy="459.5" r="2.55"/>
<circle cx="999.5" cy="487.5" r="2.55"/>
<circle cx="1001.5" cy="515.5" r="2.55"/>
<circle cx="1002.5" cy="541.5" r="2.55"/>
<circle cx="1004.5" cy="565.5" r="2.55"/>
<circle cx="1005.5" cy="587.5" r="2.55"/>
<circle cx="1006.5" cy="606.5" r="2.55"/>
<circle cx="1008.5" cy="623.5" r="2.55"/>
<circle cx="1009.5" cy="636.5" r="2.55"/>
<circle cx="1010.5" cy="647.5" r="2.55"/>
<circle cx="1012.5" cy="654.5" r="2.55"/>
<circle cx="1013.5" cy="657.5" r="2.55"/>
<circle cx="1015.5" cy="658.5" r="2.55"/>
<circle cx="1016.5" cy="655.5" r="2.55"/>
<circle cx="1017.5" cy="650.5" r="2.55"/>
<circle cx="1019.5" cy="642.5" r="2.55"/>
<circle cx="1020.5" cy="631.5" r="2.55"/>
<circle cx="1021.5" cy="619.5" r="2.55"/>
<circle cx="1023.5" cy="605.5" r="2.55"/>
<circle cx="1024.5" cy="591.5" r="2.55"/>
<circle cx="1026.5" cy="575.5" r="2.55"/>
<circle cx="1027.5" cy="560.5" r="2.55"/>
<circle cx="1028.5" cy="545.5" r="2.55"/>
<circle cx="1030.5" cy="531.5" r="2.55"/>
<circle cx="1031.5" cy="518.5" r="2.55"/>
<circle cx="1032.5" cy="507.5" r="2.55"/>
<circle cx="1034.5" cy="498.5" r="2.55"/>
<circle cx="1035.5" cy="492.5" r="2.55"/>
<circle cx="1037.5" cy="488.5" r="2.55"/>
<circle cx="1038.5" cy="487.5" r="2.55"/>
<circle cx="1039.5" cy="489.5" r="2.55"/>
<circle cx="1041.5" cy="494.5" r="2.55"/>
<circle cx="1042.5" cy="502.5" r="2.55"/>
<circle cx="1043.5" cy="514.5" r="2.55"/>
<circle cx="1045.5" cy="527.5" r="2.55"/>
<circle cx="1046.5" cy="544.5" r="2.55"/>
<circle cx="1047.5" cy="562.5" r="2.55"/>
<circle cx="1049.5" cy="583.5" r="2.55"/>
<circle cx="1050.5" cy="604.5" r="2.55"/>
<circle cx="1052.5" cy="627.5" r="2.55"/>
<circle cx="1053.5" cy="650.5" r="2.55"/>
<circle cx="1054.5" cy="673.5" r="2.55"/>
<circle cx="1056.5" cy="695.5" r="2.55"/>
<circle cx="1057.5" cy="716.5" r="2.55"/>
<circle cx="1058.5" cy="735.5" r="2.55"/>
<circle cx="1060.5" cy="752.5" r="2.55"/>
<circle cx="1061.5" cy="766.5" r="2.55"/>
<circle cx="1063.5" cy="777.5" r="2.55"/>
<circle cx="1064.5" cy="785.5" r="2.55"/>
<circle cx="1065.5" cy="788.5" r="2.55"/>
<circle cx="1067.5" cy="788.5" r="2.55"/>
<circle cx="1068.5" cy="783.5" r="2.55"/>
<circle cx="1069.5" cy="773.5" r="2.55"/>
<circle cx="1071.5" cy="759.5" r="2.55"/>
<circle cx="1072.5" cy="741.5" r="2.55"/>
<circle cx="1074.5" cy="719.5" r="2.55"/>
<circle cx="1075.5" cy="692.5" r="2.55"/>
<circle cx="1076.5" cy="662.5" r="2.55"/>
<circle cx="1078.5" cy="629.5" r="2.55"/>
<circle cx="1079.5" cy="592.5" r="2.55"/>
<circle cx="1080.5" cy="554.5" r="2.55"/>
<circle cx="1082.5" cy="513.5" r="2.55"/>
<circle cx="1083.5" cy="472.5" r="2.55"/>
<circle cx="1085.5" cy="430.5" r="2.55"/>
<circle cx="1086.5" cy="387.5" r="2.55"/>
<circle cx="1087.5" cy="345.5" r="2.55"/>
<circle cx="1089.5" cy="305.5" r="2.55"/>
<circle cx="1090.5" cy="266.5" r="2.55"/>
<circle cx="1091.5" cy="229.5" r="2.55"/>
<circle cx="1093.5" cy="196.5" r="2.55"/>
<circle cx="1094.5" cy="165.5" r="2.55"/>
<circle cx="1096.5" cy="139.5" r="2.55"/>
<circle cx="1097.5" cy="116.5" r="2.55"/>
<circle cx="1098.5" cy="97.5" r="2.55"/>
<circle cx="1100.5" cy="83.5" r="2.55"/>
<circle cx="1101.5" cy="74.5" r="2.55"/>
<circle cx="1102.5" cy="69.5" r="2.55"/>
<circle cx="1104.5" cy="68.5" r="2.55"/>
<circle cx="1105.5" cy="71.5" r="2.55"/>
<circle cx="1106.5" cy="79.5" r="2.55"/>
<circle cx="1108.5" cy="89.5" r="2.55"/>
<circle cx="1109.5" cy="104.5" r="2.55"/>
<circle cx="1111.5" cy="121.5" r="2.55"/>
<circle cx="1112.5" cy="140.5" r="2.55"/>
<circle cx="1113.5" cy="161.5" r="2.55"/>
<circle cx="1115.5" cy="184.5" r="2.55"/>
<circle cx="1116.5" cy="207.5" r="2.55"/>
<circle cx="1117.5" cy="231.5" r="2.55"/>
<circle cx="1119.5" cy="254.5" r="2.55"/>
<circle cx="1120.5" cy="276.5" r="2.55"/>
<circle cx="1122.5" cy="297.5" r="2.55"/>
<circle cx="1123.5" cy="317.5" r="2.55"/>
<circle cx="1124.5" cy="334.5" r="2.55"/>
<circle cx="1126.5" cy="349.5" r="2.55"/>
<circle cx="1127.5" cy="361.5" r="2.55"/>
<circle cx="1128.5" cy="371.5" r="2.55"/>
<circle cx="1130.5" cy="377.5" r="2.55"/>
<circle cx="1131.5" cy="380.5" r="2.55"/>
<circle cx="1133.5" cy="381.5" r="2.55"/>
<circle cx="1134.5" cy="378.5" r="2.55"/>
<circle cx="1135.5" cy="373.5" r="2.55"/>
<circle cx="1137.5" cy="365.5" r="2.55"/>
<circle cx="1138.5" cy="356.5" r="2.55"/>
<circle cx="1139.5" cy="344.5" r="2.55"/>
<circle cx="1141.5" cy="331.5" r="2.55"/>
<circle cx="1142.5" cy="317.5" r="2.55"/>
<circle cx="1144.5" cy="303.5" r="2.55"/>
<circle cx="1145.5" cy="288.5" r="2.55"/>
<circle cx="1146.5" cy="274.5" r="2.55"/>
<circle cx="1148.5" cy="261.5" r="2.55"/>
<circle cx="1149.5" cy="249.5" r="2.55"/>
<circle cx="1150.5" cy="239.5" r="2.55"/>
<circle cx="1152.5" cy="231.5" r="2.55"/>
<circle cx="1153.5" cy="225.5" r="2.55"/>
<circle cx="1155.5" cy="222.5" r="2.55"/>
<circle cx="1156.5" cy="222.5" r="2.55"/>
<circle cx="1157.5" cy="225.5" r="2.55"/>
<circle cx="1159.5" cy="231.5" r="2.55"/>
<circle cx="1160.5" cy="240.5" r="2.55"/>
<circle cx="1161.5" cy="252.5" r="2.55"/>
<circle cx="1163.5" cy="267.5" r="2.55"/>
<circle cx="1164.5" cy="285.5" r="2.55"/>
<circle cx="1166.5" cy="305.5" r="2.55"/>
<circle cx="1167.5" cy="327.5" r="2.55"/>
<circle cx="1168.5" cy="351.5" r="2.55"/>
<circle cx="1170.5" cy="377.5" r="2.55"/>
<circle cx="1171.5" cy="403.5" r="2.55"/>
<circle cx="1172.5" cy="430.5" r="2.55"/>
<circle cx="1174.5" cy="456.5" r="2.55"/>
<circle cx="1175.5" cy="483.5" r="2.55"/>
<circle cx="1176.5" cy="508.5" r="2.55"/>
<circle cx="1178.5" cy="532.5" r="2.55"/>
<circle cx="1179.5" cy="554.5" r="2.55"/>
<circle cx="1181.5" cy="575.5" r="2.55"/>
<circle cx="1182.5" cy="592.5" r="2.55"/>
<circle cx="1183.5" cy="607.5" r="2.55"/>
<circle cx="1185.5" cy="619.5" r="2.55"/>
<circle cx="1186.5" cy="628.5" r="2.55"/>
<circle cx="1187.5" cy="634.5" r="2.55"/>
<circle cx="1189.5" cy="637.5" r="2.55"/>
<circle cx="1190.5" cy="637.5" r="2.55"/>
<circle cx="1192.5" cy="634.5" r="2.55"/>
<circle cx="1193.5" cy="628.5" r="2.55"/>
<circle cx="1194.5" cy="620.5" r="2.55"/>
<circle cx="1196.5" cy="610.5" r="2.55"/>
<circle cx="1197.5" cy="598.5" r="2.55"/>
<circle cx="1198.5" cy="585.5" r="2.55"/>
<circle cx="1200.5" cy="571.5" r="2.55"/>
<circle cx="1201.5" cy="556.5" r="2.55"/>
<circle cx="1203.5" cy="542.5" r="2.55"/>
<circle cx="1204.5" cy="528.5" r="2.55"/>
<circle cx="1205.5" cy="515.5" r="2.55"/>
<circle cx="1207.5" cy="504.5" r="2.55"/>
<circle cx="1208.5" cy="494.5" r="2.55"/>
<circle cx="1209.5" cy="486.5" r="2.55"/>
<circle cx="1211.5" cy="481.5" r="2.55"/>
<circle cx="1212.5" cy="479.5" r="2.55"/>
<circle cx="1214.5" cy="479.5" r="2.55"/>
<circle cx="1215.5" cy="482.5" r="2.55"/>
<circle cx="1216.5" cy="489.5" r="2.55"/>
<circle cx="1218.5" cy="498.5" r="2.55"/>
<circle cx="1219.5" cy="510.5" r="2.55"/>
<circle cx="1220.5" cy="525.5" r="2.55"/>
<circle cx="1222.5" cy="542.5" r="2.55"/>
<circle cx="1223.5" cy="562.5" r="2.55"/>
<circle cx="1225.5" cy="583.5" r="2.55"/>
<circle cx="1226.5" cy="605.5" r="2.55"/>
<circle cx="1227.5" cy="629.5" r="2.55"/>
<circle cx="1229.5" cy="652.5" r="2.55"/>
<circle cx="1230.5" cy="675.5" r="2.55"/>
<circle cx="1231.5" cy="698.5" r="2.55"/>
<circle cx="1233.5" cy="719.5" r="2.55"/>
<circle cx="1234.5" cy="739.5" r="2.55"/>
<circle cx="1236.5" cy="756.5" r="2.55"/>
<circle cx="1237.5" cy="770.5" r="2.55"/>
<circle cx="1238.5" cy="781.5" r="2.55"/>
<circle cx="1240.5" cy="788.5" r="2.55"/>
<circle cx="1241.5" cy="792.5" r="2.55"/>
<circle cx="1242.5" cy="791.5" r="2.55"/>
<circle cx="1244.5" cy="786.5" r="2.55"/>
<circle cx="1245.5" cy="776.5" r="2.55"/>
<circle cx="1246.5" cy="762.5" r="2.55"/>
<circle cx="1248.5" cy="743.5" r="2.55"/>
<circle cx="1249.5" cy="721.5" r="2.55"/>
<circle cx="1251.5" cy="694.5" r="2.55"/>
<circle cx="1252.5" cy="664.5" r="2.55"/>
<circle cx="1253.5" cy="630.5" r="2.55"/>
<circle cx="1255.5" cy="594.5" r="2.55"/>
<circle cx="1256.5" cy="555.5" r="2.55"/>
<circle cx="1257.5" cy="514.5" r="2.55"/>
<circle cx="1259.5" cy="472.5" r="2.55"/>
<circle cx="1260.5" cy="430.5" r="2.55"/>
<circle cx="1262.5" cy="387.5" r="2.55"/>
<circle cx="1263.5" cy="345.5" r="2.55"/>
<circle cx="1264.5" cy="305.5" r="2.55"/>
<circle cx="1266.5" cy="266.5" r="2.55"/>
<circle cx="1267.5" cy="230.5" r="2.55"/>
<circle cx="1268.5" cy="196.5" r="2.55"/>
<circle cx="1270.5" cy="165.5" r="2.55"/>
<circle cx="1271.5" cy="139.5" r="2.55"/>
<circle cx="1273.5" cy="116.5" r="2.55"/>
<circle cx="1274.5" cy="97.5" r="2.55"/>
<circle cx="1275.5" cy="83.5" r="2.55"/>
<circle cx="1277.5" cy="73.5" r="2.55"/>
<circle cx="1278.5" cy="67.5" r="2.55"/>
<circle cx="1279.5" cy="66.5" r="2.55"/>
<circle cx="1281.5" cy="69.5" r="2.55"/>
<circle cx="1282.5" cy="76.5" r="2.55"/>
<circle cx="1284.5" cy="86.5" r="2.55"/>
<circle cx="1285.5" cy="100.5" r="2.55"/>
<circle cx="1286.5" cy="117.5" r="2.55"/>
<circle cx="1288.5" cy="136.5" r="2.55"/>
<circle cx="1289.5" cy="157.5" r="2.55"/>
<circle cx="1290.5" cy="179.5" r="2.55"/>
<circle cx="1292.5" cy="202.5" r="2.55"/>
<circle cx="1293.5" cy="225.5" r="2.55"/>
<circle cx="1295.5" cy="249.5" r="2.55"/>
<circle cx="1296.5" cy="271.5" r="2.55"/>
<circle cx="1297.5" cy="293.5" r="2.55"/>
<circle cx="1299.5" cy="312.5" r="2.55"/>
<circle cx="1300.5" cy="330.5" r="2.55"/>
<circle cx="1301.5" cy="346.5" r="2.55"/>
<circle cx="1303.5" cy="359.5" r="2.55"/>
<circle cx="1304.5" cy="369.5" r="2.55"/>
<circle cx="1306.5" cy="376.5" r="2.55"/>
<circle cx="1307.5" cy="381.5" r="2.55"/>
<circle cx="1308.5" cy="382.5" r="2.55"/>
<circle cx="1310.5" cy="381.5" r="2.55"/>
<circle cx="1311.5" cy="377.5" r="2.55"/>
<circle cx="1312.5" cy="371.5" r="2.55"/>
<circle cx="1314.5" cy="362.5" r="2.55"/>
<circle cx="1315.5" cy="352.5" r="2.55"/>
<circle cx="1316.5" cy="340.5" r="2.55"/>
<circle cx="1318.5" cy="328.5" r="2.55"/>
<circle cx="1319.5" cy="314.5" r="2.55"/>
<circle cx="1321.5" cy="301.5" r="2.55"/>
<circle cx="1322.5" cy="288.5" r="2.55"/>
<circle cx="1323.5" cy="276.5" r="2.55"/>
<circle cx="1325.5" cy="264.5" r="2.55"/>
<circle cx="1326.5" cy="255.5" r="2.55"/>
<circle cx="1327.5" cy="247.5" r="2.55"/>
<circle cx="1329.5" cy="241.5" r="2.55"/>
<circle cx="1330.5" cy="238.5" r="2.55"/>
<circle cx="1332.5" cy="238.5" r="2.55"/>
<circle cx="1333.5" cy="240.5" r="2.55"/>
<circle cx="1334.5" cy="246.5" r="2.55"/>
<circle cx="1336.5" cy="254.5" r="2.55"/>
<circle cx="1337.5" cy="265.5" r="2.55"/>
<circle cx="1338.5" cy="279.5" r="2.55"/>
<circle cx="1340.5" cy="295.5" r="2.55"/>
<circle cx="1341.5" cy="314.5" r="2.55"/>
<circle cx="1343.5" cy="334.5" r="2.55"/>
<circle cx="1344.5" cy="357.5" r="2.55"/>
<circle cx="1345.5" cy="380.5" r="2.55"/>
<circle cx="1347.5" cy="405.5" r="2.55"/>
<circle cx="1348.5" cy="430.5" r="2.55"/>
<circle cx="1349.5" cy="455.5" r="2.55"/>
<circle cx="1351.5" cy="479.5" r="2.55"/>
<circle cx="1352.5" cy="503.5" r="2.55"/>
<circle cx="1354.5" cy="525.5" r="2.55"/>
<circle cx="1355.5" cy="545.5" r="2.55"/>
<circle cx="1356.5" cy="564.5" r="2.55"/>
<circle cx="1358.5" cy="580.5" r="2.55"/>
<circle cx="1359.5" cy="594.5" r="2.55"/>
<circle cx="1360.5" cy="605.5" r="2.55"/>
<circle cx="1362.5" cy="614.5" r="2.55"/>
<circle cx="1363.5" cy="619.5" r="2.55"/>
<circle cx="1365.5" cy="621.5" r="2.55"/>
<circle cx="1366.5" cy="621.5" r="2.55"/>
<circle cx="1367.5" cy="618.5" r="2.55"/>
<circle cx="1369.5" cy="612.5" r="2.55"/>
<circle cx="1370.5" cy="605.5" r="2.55"/>
<circle cx="1371.5" cy="595.5" r="2.55"/>
<circle cx="1373.5" cy="584.5" r="2.55"/>
<circle cx="1374.5" cy="571.5" r="2.55"/>
<circle cx="1375.5" cy="558.5" r="2.55"/>
<circle cx="1377.5" cy="545.5" r="2.55"/>
<circle cx="1378.5" cy="532.5" r="2.55"/>
<circle cx="1380.5" cy="519.5" r="2.55"/>
<circle cx="1381.5" cy="507.5" r="2.55"/>
<circle cx="1382.5" cy="497.5" r="2.55"/>
<circle cx="1384.5" cy="489.5" r="2.55"/>
<circle cx="1385.5" cy="482.5" r="2.55"/>
<circle cx="1386.5" cy="478.5" r="2.55"/>
<circle cx="1388.5" cy="477.5" r="2.55"/>
<circle cx="1389.5" cy="479.5" r="2.55"/>
<circle cx="1391.5" cy="483.5" r="2.55"/>
<circle cx="1392.5" cy="490.5" r="2.55"/>
<circle cx="1393.5" cy="501.5" r="2.55"/>
<circle cx="1395.5" cy="514.5" r="2.55"/>
<circle cx="1396.5" cy="529.5" r="2.55"/>
<circle cx="1397.5" cy="547.5" r="2.55"/>
<circle cx="1399.5" cy="567.5" r="2.55"/>
<circle cx="1400.5" cy="588.5" r="2.55"/>
<circle cx="1402.5" cy="611.5" r="2.55"/>
<circle cx="1403.5" cy="634.5" r="2.55"/>
<circle cx="1404.5" cy="657.5" r="2.55"/>
<circle cx="1406.5" cy="680.5" r="2.55"/>
<circle cx="1407.5" cy="703.5" r="2.55"/>
<circle cx="1408.5" cy="724.5" r="2.55"/>
<circle cx="1410.5" cy="743.5" r="2.55"/>
<circle cx="1411.5" cy="759.5" r="2.55"/>
<circle cx="1413.5" cy="773.5" r="2.55"/>
<circle cx="1414.5" cy="784.5" r="2.55"/>
<circle cx="1415.5" cy="790.5" r="2.55"/>
<circle cx="1417.5" cy="793.5" r="2.55"/>
<circle cx="1418.5" cy="792.5" r="2.55"/>
<circle cx="1419.5" cy="787.5" r="2.55"/>
<circle cx="1421.5" cy="777.5" r="2.55"/>
<circle cx="1422.5" cy="762.5" r="2.55"/>
<circle cx="1424.5" cy="744.5" r="2.55"/>
<circle cx="1425.5" cy="721.5" r="2.55"/>
<circle cx="1426.5" cy="694.5" r="2.55"/>
<circle cx="1428.5" cy="663.5" r="2.55"/>
<circle cx="1429.5" cy="630.5" r="2.55"/>
<circle cx="1430.5" cy="593.5" r="2.55"/>
<circle cx="1432.5" cy="554.5" r="2.55"/>
<circle cx="1433.5" cy="514.5" r="2.55"/>
<circle cx="1435.5" cy="472.5" r="2.55"/>
</g>
</svg></body></html>
